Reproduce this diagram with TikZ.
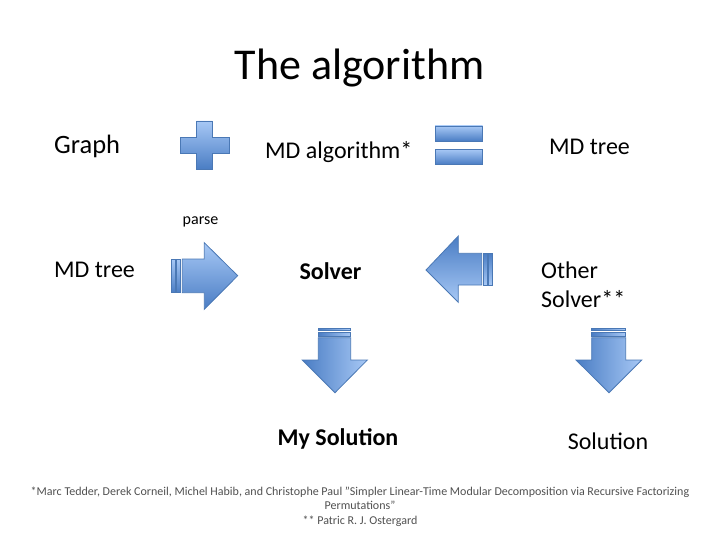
\documentclass[tikz,border=0pt]{standalone}
\usepackage{fontspec}
\setmainfont{Carlito}
\definecolor{lightb}{HTML}{A7C8F5}
\definecolor{darkb}{HTML}{4A7DC4}
\definecolor{edgeb}{HTML}{4A78B5}
\definecolor{notegray}{HTML}{505050}
\tikzset{
  lbl/.style={font=\fontsize{24}{28}\selectfont, inner sep=0pt, anchor=west},
  lblc/.style={font=\fontsize{24}{28}\selectfont, inner sep=0pt},
  shp/.style={draw=edgeb, line width=0.8pt, line join=miter},
  tb/.style={shp, top color=lightb, bottom color=darkb},
  bt/.style={shp, top color=darkb, bottom color=lightb},
  lr/.style={shp, left color=darkb, right color=lightb},
  note/.style={font=\fontsize{12}{14.2}\selectfont, text=notegray, align=center, inner sep=0pt}
}
\begin{document}
\begin{tikzpicture}[x=1pt,y=-1pt]
\useasboundingbox (0,0) rectangle (720,540);
% title
\node[font=\fontsize{44}{52}\selectfont, inner sep=0pt] (title) at (359.5,68) {The algorithm};
% first row
\node[lbl, font=\fontsize{26.5}{30}\selectfont] (graph) at (54,146) {Graph};
\path[tb] (196.7,121) -- (212.3,121) -- (212.3,137.3) -- (229,137.3) -- (229,153.3) -- (212.3,153.3) -- (212.3,169.3) -- (196.7,169.3) -- (196.7,153.3) -- (180,153.3) -- (180,137.3) -- (196.7,137.3) -- cycle;
\node[lbl] (mdalg) at (265,152) {MD algorithm*};
\path[tb] (435,126) rectangle (482.7,141);
\path[tb] (435,149.3) rectangle (482.7,164.3);
\node[lbl] (mdtree1) at (549,147) {MD tree};
% parse
\node[font=\fontsize{16}{19}\selectfont, inner sep=0pt] (parse) at (200.5,222) {parse};
% second row
\node[lbl] (mdtree2) at (54,270) {MD tree};
\path[tb] (171.7,259) rectangle (175,292.7);
\path[tb] (176.7,259) rectangle (180.7,292.7);
\path[tb] (182.3,259) -- (204.3,259) -- (204.3,242.7) -- (237.7,275.7) -- (204.3,309.3) -- (204.3,292.7) -- (182.3,292.7) -- cycle;
\node[lblc, font=\bfseries\fontsize{24}{28}\selectfont] (solver) at (330.5,271) {Solver};
\path[bt] (426,270) -- (458.3,236) -- (458.3,253.3) -- (481.7,253.3) -- (481.7,285) -- (458.3,285) -- (458.3,302.3) -- cycle;
\path[bt] (483.3,253.3) rectangle (487,285);
\path[bt] (488.7,253.3) rectangle (492,285);
\node[lbl, align=left, font=\fontsize{24}{28.5}\selectfont, anchor=north west] (other) at (541,262) {Other\\Solver**};
% down arrows
\path[lr] (318.3,328.3) rectangle (350.7,330.3);
\path[lr] (318.3,332.3) rectangle (350.7,336);
\path[lr] (318.3,337.7) -- (350.7,337.7) -- (350.7,360) -- (367.3,360) -- (335,392.7) -- (302.3,360) -- (318.3,360) -- cycle;
\path[lr] (591.7,328.3) rectangle (625.7,330.3);
\path[lr] (591.7,332.3) rectangle (625.7,336);
\path[lr] (591.7,337.7) -- (625.7,337.7) -- (625.7,360) -- (641.7,360) -- (609,392.7) -- (576,360) -- (591.7,360) -- cycle;
% solutions
\node[lblc, font=\bfseries\fontsize{24}{28}\selectfont] (mysol) at (338,439) {My Solution};
\node[lblc] (sol) at (608,441) {Solution};
% footnote
\node[note, anchor=north] (fn) at (360,487) {*Marc Tedder, Derek Corneil, Michel Habib, and Christophe Paul "Simpler Linear-Time Modular Decomposition via Recursive Factorizing\\Permutations"\\** Patric R. J. Ostergard};
\end{tikzpicture}
\end{document}
